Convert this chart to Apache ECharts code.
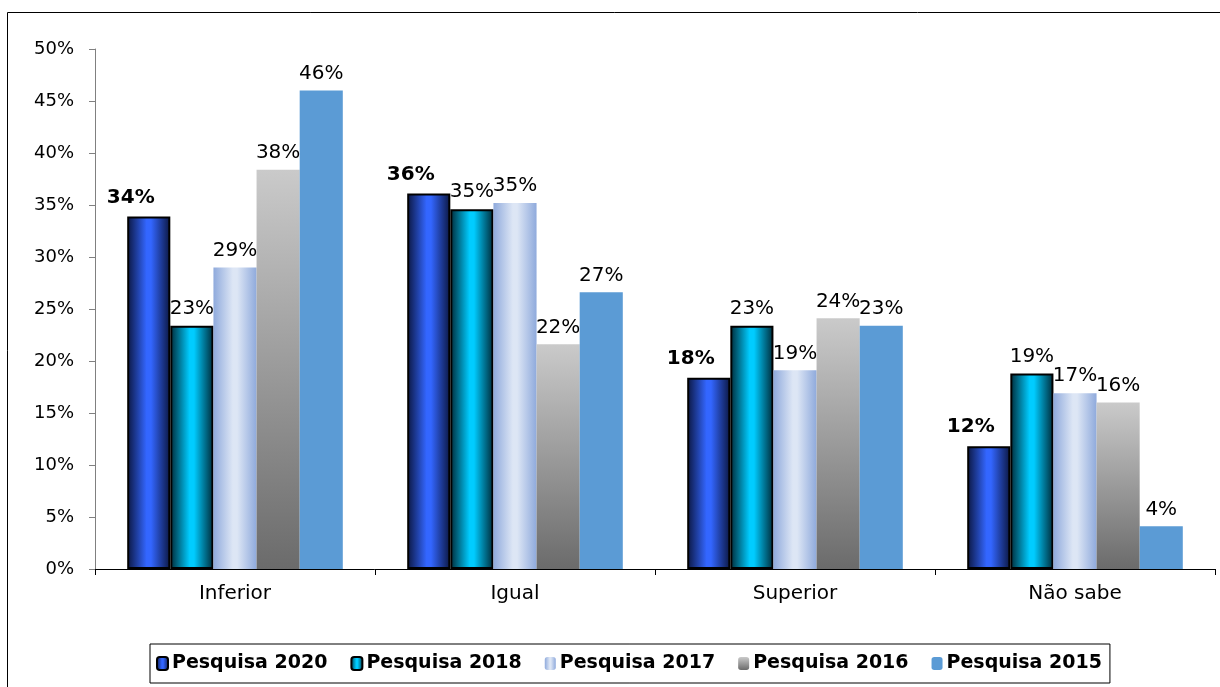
<!DOCTYPE html>
<html>
<head>
<meta charset="utf-8">
<script src="https://cdn.jsdelivr.net/npm/echarts@6/dist/echarts.min.js"></script>
<style>html,body{margin:0;padding:0;background:#fff;}#c{width:1220px;height:687px;}</style>
</head>
<body>
<div id="c"></div>
<script>
const categories = ['Inferior', 'Igual', 'Superior', 'Não sabe'];
const seriesNames = ['Pesquisa 2020', 'Pesquisa 2018', 'Pesquisa 2017', 'Pesquisa 2016', 'Pesquisa 2015'];
const p2020 = [33.9, 36.1, 18.4, 11.8];
const p2018 = [23.4, 34.6, 23.4, 18.8];
const p2017 = [29.0, 35.2, 19.1, 16.9];
const p2016 = [38.4, 21.6, 24.1, 16.0];
const p2015 = [46.0, 26.6, 23.4, 4.1];
const yTicks = [0, 5, 10, 15, 20, 25, 30, 35, 40, 45, 50];

const FONT = 'DejaVu Sans';
const hGrad = (edge, mid) => new echarts.graphic.LinearGradient(0, 0, 1, 0, [
  {offset: 0, color: edge}, {offset: 0.45, color: mid}, {offset: 0.55, color: mid}, {offset: 1, color: edge}
]);
const styles = [
  {color: hGrad('#0b1640', '#3366ff'), borderColor: '#000', borderWidth: 2},
  {color: hGrad('#002a38', '#00ccff'), borderColor: '#000', borderWidth: 2},
  {color: hGrad('#8faadc', '#dde6f5'), borderWidth: 0},
  {color: new echarts.graphic.LinearGradient(0, 0, 0, 1, [{offset: 0, color: '#cacaca'}, {offset: 1, color: '#6b6b6b'}]), borderWidth: 0},
  {color: '#5b9bd5', borderWidth: 0}
];
const labelOffsets = [[-18, -2], [0, 0], [0, 0], [0, 0], [0, 0]];
const data = [p2020, p2018, p2017, p2016, p2015];

const chart = echarts.init(document.getElementById('c'), null, {renderer: 'canvas'});
chart.setOption({
  animation: false,
  backgroundColor: '#fff',
  graphic: [{
    type: 'rect', left: 5, top: 10, z: -1,
    shape: {width: 1240, height: 700},
    style: {fill: 'none', stroke: '#000', lineWidth: 1}
  }],
  grid: {left: 95, right: 5, top: 49, bottom: 118, containLabel: false},
  legend: {
    bottom: 4, left: 150,
    itemWidth: 11, itemHeight: 13, itemGap: 23,
    padding: [10, 8, 10, 6],
    borderColor: '#000', borderWidth: 1,
    textStyle: {fontFamily: FONT, fontWeight: 'bold', fontSize: 19, color: '#000', padding: [0, 0, 0, -1]},
    data: seriesNames
  },
  xAxis: {
    type: 'category', data: categories,
    axisLine: {lineStyle: {color: '#000', width: 1}},
    axisTick: {show: true, length: 6, lineStyle: {color: '#000'}},
    axisLabel: {fontFamily: FONT, fontSize: 20, color: '#000', margin: 15}
  },
  yAxis: {
    type: 'value', min: 0, max: 50, interval: 5,
    splitLine: {show: false},
    axisLine: {show: true, lineStyle: {color: '#808080'}},
    axisTick: {show: true, length: 6, lineStyle: {color: '#808080'}},
    axisLabel: {fontFamily: FONT, fontSize: 18, color: '#000', margin: 21,
      formatter: v => yTicks.includes(v) ? v + '%' : ''}
  },
  series: seriesNames.map((name, i) => ({
    name, type: 'bar', data: data[i],
    barGap: '0%', barCategoryGap: '23%',
    itemStyle: styles[i],
    label: {
      show: true, position: 'top', distance: 7, offset: labelOffsets[i],
      fontFamily: FONT, fontSize: 20, color: '#000',
      fontWeight: i === 0 ? 'bold' : 'normal',
      formatter: p => Math.round(p.value) + '%'
    }
  }))
});
</script>
</body>
</html>
